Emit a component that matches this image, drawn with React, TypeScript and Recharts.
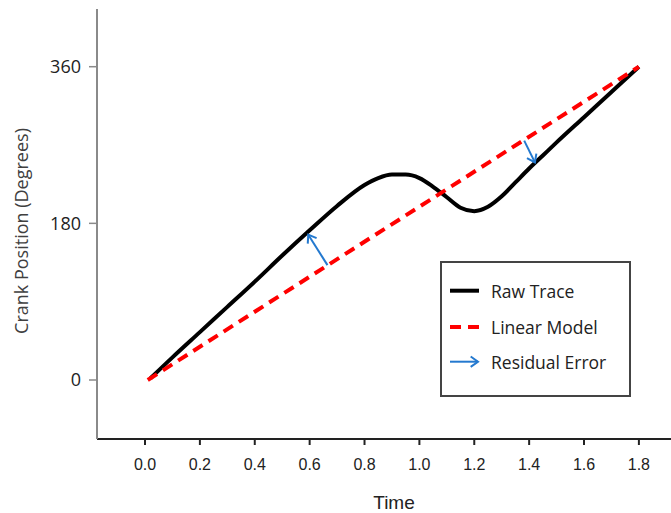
import React from "react";
import {
  LineChart,
  Line,
  XAxis,
  YAxis,
  Label,
  Legend,
  ReferenceLine,
} from "recharts";

// raw crank trace
const rawTime = [0.02, 0.1, 0.2, 0.3, 0.4, 0.5, 0.6, 0.7, 0.8, 0.85, 0.9, 0.95, 1.0, 1.05, 1.1, 1.15, 1.2, 1.25, 1.3, 1.35, 1.4, 1.45, 1.5, 1.6, 1.7, 1.8];
const rawAngle = [2, 26, 55, 84, 113, 143, 172, 200, 224, 232, 236, 236, 232, 222, 210, 198, 194, 199, 211, 227, 243, 258, 273, 302, 331, 360];

// straight-line model
const modelTime = [0.01, 1.8];
const modelAngle = [0, 360];

// residual error arrows: from model to trace
const arrowFromT = [0.665, 1.382];
const arrowFromA = [132, 275];
const arrowToT = [0.595, 1.421];
const arrowToA = [167, 250];

const xTicks = [0, 0.2, 0.4, 0.6, 0.8, 1.0, 1.2, 1.4, 1.6, 1.8];
const yTicks = [0, 180, 360];

const legendItems = ["Raw Trace", "Linear Model", "Residual Error"];

const BLUE = "#2479cf";

const rawData = rawTime.map((t, i) => ({ t, v: rawAngle[i] }));
const modelData = modelTime.map((t, i) => ({ t, v: modelAngle[i] }));

const arrowHead = (x: number, y: number, ang: number, len = 9, spread = 0.62) => {
  const a = [x - len * Math.cos(ang - spread), y - len * Math.sin(ang - spread)];
  const b = [x - len * Math.cos(ang + spread), y - len * Math.sin(ang + spread)];
  return `${a[0]},${a[1]} ${x},${y} ${b[0]},${b[1]}`;
};

const ArrowShape = (props: any) => {
  const { x1, y1, x2, y2 } = props;
  const ang = Math.atan2(y2 - y1, x2 - x1);
  return (
    <g>
      <line x1={x1} y1={y1} x2={x2} y2={y2} stroke={BLUE} strokeWidth={2} />
      <polyline points={arrowHead(x2, y2, ang)} fill="none" stroke={BLUE} strokeWidth={2} />
    </g>
  );
};

const renderLegend = () => {
  const rows = [29.7, 66, 100.7];
  return (
    <svg width={192} height={137} style={{ display: "block" }}>
      <rect x={1} y={1} width={189} height={134} fill="#fff" stroke="#444" strokeWidth={2} />
      <line x1={10} x2={39} y1={rows[0]} y2={rows[0]} stroke="#000" strokeWidth={4} />
      <line x1={10} x2={39} y1={rows[1]} y2={rows[1]} stroke="#ff0000" strokeWidth={4} strokeDasharray="11 7" />
      <line x1={10} x2={38} y1={rows[2]} y2={rows[2]} stroke={BLUE} strokeWidth={2} />
      <polyline points={arrowHead(38, rows[2], 0)} fill="none" stroke={BLUE} strokeWidth={2} />
      {legendItems.map((name, i) => (
        <text
          key={name}
          x={51}
          y={rows[i]}
          dominantBaseline="central"
          fontFamily="Open Sans"
          fontSize={17.5}
          fill="#222"
        >
          {name}
        </text>
      ))}
    </svg>
  );
};

export default function App() {
  return (
    <div style={{ position: "relative", width: 671, height: 513, background: "#fff" }}>
      <style>{`body{margin:0;}`}</style>
      <LineChart width={671} height={513} margin={{ top: 9, right: 0, left: 0, bottom: 0 }}>
        <XAxis
          type="number"
          dataKey="t"
          domain={[-0.175, 1.917]}
          ticks={xTicks}
          interval={0}
          allowDataOverflow
          tickFormatter={(v: number) => v.toFixed(1)}
          height={74}
          tickSize={6}
          tickMargin={14}
          axisLine={{ stroke: "#222", strokeWidth: 2 }}
          tickLine={{ stroke: "#222", strokeWidth: 2 }}
          tick={{ fill: "#222", fontSize: 16, fontFamily: "Liberation Sans" }}
        >
          <Label value="Time" position="insideBottom" offset={4} dx={10} fontSize={19} fontFamily="Liberation Sans" fill="#222" />
        </XAxis>
        <YAxis
          type="number"
          dataKey="v"
          domain={[-67.8, 426.3]}
          ticks={yTicks}
          interval={0}
          allowDataOverflow
          width={97}
          tickSize={8}
          tickMargin={8}
          axisLine={{ stroke: "#8a8a8a", strokeWidth: 2 }}
          tickLine={{ stroke: "#8a8a8a", strokeWidth: 1.5 }}
          tick={{ fill: "#222", fontSize: 18, fontFamily: "Open Sans" }}
        >
          <Label
            value="Crank Position (Degrees)"
            angle={-90}
            position="center"
            dx={-27}
            dy={7}
            fontSize={18}
            fontFamily="Open Sans"
            fill="#404040"
          />
        </YAxis>
        <Legend
          content={renderLegend}
          layout="horizontal"
          align="center"
          verticalAlign="middle"
          wrapperStyle={{ left: 440, top: 261, width: 192, height: 137 }}
        />
        <Line
          data={rawData}
          dataKey="v"
          type="monotone"
          stroke="#000"
          strokeWidth={4}
          dot={false}
          isAnimationActive={false}
        />
        <Line
          data={modelData}
          dataKey="v"
          type="linear"
          stroke="#ff0000"
          strokeWidth={4}
          strokeDasharray="11 7"
          dot={false}
          isAnimationActive={false}
        />
        {arrowFromT.map((t, i) => (
          <ReferenceLine
            key={i}
            segment={[
              { x: t, y: arrowFromA[i] },
              { x: arrowToT[i], y: arrowToA[i] },
            ]}
            shape={ArrowShape}
          />
        ))}
      </LineChart>
    </div>
  );
}
